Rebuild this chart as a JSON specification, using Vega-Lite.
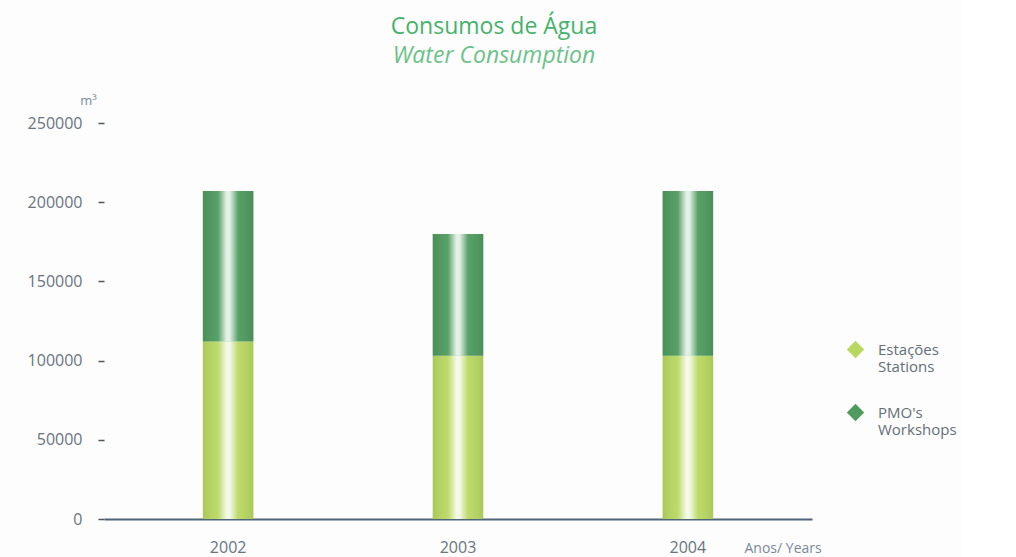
{
  "$schema": "https://vega.github.io/schema/vega-lite/v6.json",
  "width": 708,
  "height": 396,
  "background": "#fcfdfc",
  "padding": {"left": 27, "top": 16, "right": 5, "bottom": 5},
  "config": {"view": {"stroke": null}},
  "title": {
    "text": "Consumos de Água",
    "subtitle": "Water Consumption",
    "font": "Open Sans",
    "fontSize": 23,
    "fontWeight": "normal",
    "color": "#45b26a",
    "subtitleFont": "Open Sans",
    "subtitleFontSize": 23,
    "subtitleFontStyle": "italic",
    "subtitleColor": "#6cc28a",
    "subtitlePadding": 6,
    "anchor": "middle",
    "dx": 36,
    "offset": 26
  },
  "data": {
    "values": [
      {"ano": "2002", "tipo": "Estações", "valor": 112000},
      {"ano": "2002", "tipo": "PMO", "valor": 95000},
      {"ano": "2003", "tipo": "Estações", "valor": 103000},
      {"ano": "2003", "tipo": "PMO", "valor": 77000},
      {"ano": "2004", "tipo": "Estações", "valor": 103000},
      {"ano": "2004", "tipo": "PMO", "valor": 104000}
    ]
  },
  "encoding": {
    "x": {
      "field": "ano",
      "type": "nominal",
      "scale": {"paddingInner": 0.78, "paddingOuter": 0.43},
      "axis": {
        "title": "Anos/ Years",
        "titleFont": "Open Sans",
        "titleFontSize": 14,
        "titleFontWeight": "normal",
        "titleColor": "#7a8a9a",
        "titleAngle": 0,
        "titleAlign": "left",
        "titleBaseline": "middle",
        "titleX": 640,
        "titleY": 29,
        "labelAngle": 0,
        "labelFont": "Open Sans",
        "labelFontSize": 16,
        "labelColor": "#6a7480",
        "labelPadding": 20,
        "ticks": false,
        "domainColor": "#4e6478",
        "domainWidth": 2
      }
    },
    "y": {
      "field": "valor",
      "type": "quantitative",
      "aggregate": "sum",
      "stack": "zero",
      "scale": {"domain": [0, 250000], "nice": false},
      "axis": {
        "title": "m³",
        "titleFont": "Open Sans",
        "titleFontSize": 13,
        "titleFontWeight": "normal",
        "titleColor": "#7a8a9a",
        "titleAngle": 0,
        "titleAlign": "center",
        "titleBaseline": "bottom",
        "titleX": -16,
        "titleY": -16,
        "values": [0, 50000, 100000, 150000, 200000, 250000],
        "format": "d",
        "labelFont": "Open Sans",
        "labelFontSize": 16,
        "labelColor": "#6a7480",
        "labelPadding": 16,
        "domain": false,
        "grid": false,
        "tickColor": "#50565e",
        "tickSize": 6,
        "tickWidth": 1.5
      }
    },
    "order": {"field": "tipo", "type": "nominal", "sort": "ascending"}
  },
  "layer": [
    {
      "mark": {"type": "bar"},
      "encoding": {
        "color": {
          "field": "tipo",
          "type": "nominal",
          "scale": {"domain": ["Estações", "PMO"], "range": ["#b9d862", "#4f9b5f"]},
          "legend": {
            "title": null,
            "orient": "none",
            "legendX": 742,
            "legendY": 217,
            "symbolType": "diamond",
            "symbolSize": 300,
            "labelFont": "Open Sans",
            "labelFontSize": 15,
            "labelColor": "#666e76",
            "labelOffset": 13,
            "rowPadding": 28,
            "labelExpr": "datum.label == 'PMO' ? ['PMO\\'s', 'Workshops'] : ['Estações', 'Stations']"
          }
        }
      }
    },
    {
      "mark": {
        "type": "bar",
        "fill": {
          "gradient": "linear",
          "x1": 0, "y1": 0, "x2": 1, "y2": 0,
          "stops": [
            {"offset": 0, "color": "rgba(0,0,0,0.08)"},
            {"offset": 0.3, "color": "rgba(255,255,255,0.05)"},
            {"offset": 0.47, "color": "rgba(255,255,255,0.85)"},
            {"offset": 0.53, "color": "rgba(255,255,255,0.85)"},
            {"offset": 0.7, "color": "rgba(255,255,255,0.05)"},
            {"offset": 1, "color": "rgba(0,0,0,0.08)"}
          ]
        }
      },
      "encoding": {
        "detail": {"field": "tipo", "type": "nominal"}
      }
    }
  ]
}
